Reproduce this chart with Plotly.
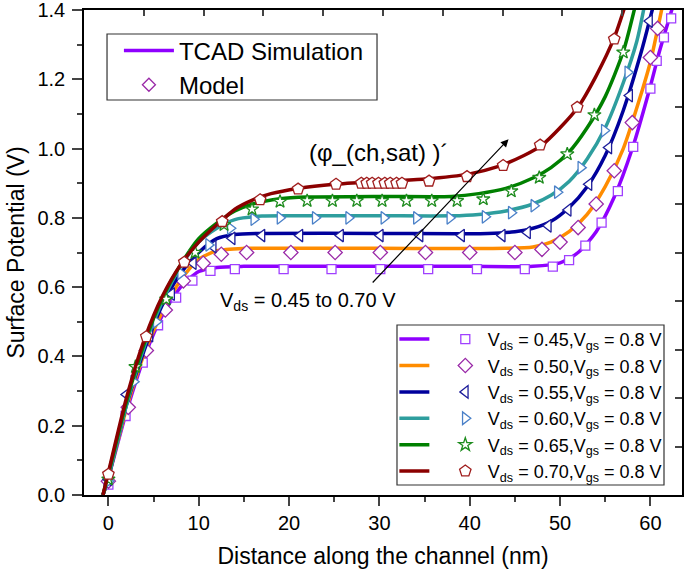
import plotly.graph_objects as go

# ---- data (x in nm, surface potential in V) ----
vds_labels = ['0.45', '0.50', '0.55', '0.60', '0.65', '0.70']

# TCAD simulation curves
tcad_x_045 = [-0.6, 0, 2, 4, 6, 8, 10, 12, 15, 20, 30, 40, 47, 50, 52, 54, 56, 58, 60, 61, 62.6]
tcad_y_045 = [0, 0.05, 0.24, 0.40, 0.52, 0.60, 0.645, 0.657, 0.66, 0.66, 0.66, 0.66, 0.66, 0.67, 0.70, 0.76, 0.86, 1.0, 1.18, 1.28, 1.42]
tcad_x_050 = [-0.6, 0, 2, 4, 6, 8, 10, 12, 15, 20, 30, 44, 47, 49, 51, 53, 55, 57, 59, 60, 61.4]
tcad_y_050 = [0, 0.05, 0.25, 0.41, 0.53, 0.62, 0.68, 0.705, 0.712, 0.712, 0.712, 0.712, 0.716, 0.73, 0.76, 0.81, 0.89, 1.0, 1.16, 1.25, 1.42]
tcad_x_055 = [-0.6, 0, 2, 4, 6, 8, 10, 12, 14, 17, 30, 42, 45, 47, 49, 51, 53, 55, 57, 59, 60.4]
tcad_y_055 = [0, 0.05, 0.26, 0.42, 0.55, 0.64, 0.70, 0.74, 0.752, 0.755, 0.755, 0.755, 0.76, 0.77, 0.79, 0.83, 0.89, 0.98, 1.11, 1.28, 1.42]
tcad_x_060 = [-0.6, 0, 2, 4, 6, 8, 10, 12, 14, 17, 20, 30, 38, 41, 44, 47, 49, 51, 53, 55, 57, 58.5, 59.4]
tcad_y_060 = [0, 0.05, 0.26, 0.43, 0.56, 0.66, 0.73, 0.77, 0.795, 0.805, 0.806, 0.806, 0.806, 0.81, 0.82, 0.84, 0.865, 0.905, 0.97, 1.06, 1.19, 1.31, 1.42]
tcad_x_065 = [-0.6, 0, 2, 4, 6, 8, 10, 12, 14, 16, 19, 22, 30, 38, 41, 44, 47, 49, 51, 53, 55, 57, 58.4]
tcad_y_065 = [0, 0.06, 0.27, 0.44, 0.57, 0.665, 0.74, 0.785, 0.82, 0.84, 0.855, 0.86, 0.862, 0.862, 0.87, 0.885, 0.915, 0.945, 0.99, 1.06, 1.15, 1.28, 1.42]
tcad_x_070 = [-0.6, 0, 2, 4, 6, 8, 10, 12, 14, 16, 18, 21, 25, 30, 35, 40, 43, 46, 48, 50, 52, 54, 56, 57.3]
tcad_y_070 = [0, 0.065, 0.28, 0.45, 0.575, 0.665, 0.73, 0.78, 0.825, 0.852, 0.87, 0.885, 0.897, 0.905, 0.912, 0.927, 0.947, 0.98, 1.01, 1.06, 1.12, 1.21, 1.32, 1.42]

# model points
model_x_045 = [0, 1.9, 3.8, 5.5, 7.5, 9.3, 11.3, 14.0, 19.4, 24.7, 30.1, 35.4, 40.8, 46.1, 49.2, 51.0, 52.8, 54.6, 56.4, 58.1, 60.0, 60.7, 61.5, 62.3]
model_y_045 = [0.03, 0.228, 0.382, 0.49, 0.57, 0.619, 0.647, 0.652, 0.652, 0.652, 0.652, 0.652, 0.652, 0.652, 0.659, 0.678, 0.72, 0.786, 0.877, 1.005, 1.173, 1.253, 1.321, 1.376]
model_x_050 = [0, 2.2, 4.2, 6.3, 8.3, 10.5, 12.5, 15.3, 20.2, 25.1, 30.1, 35.1, 40.0, 45.0, 48.0, 50.0, 52.0, 54.0, 56.0, 58.0, 60.0, 60.8]
model_y_050 = [0.04, 0.253, 0.417, 0.534, 0.618, 0.669, 0.695, 0.70, 0.70, 0.70, 0.70, 0.70, 0.70, 0.70, 0.709, 0.73, 0.772, 0.84, 0.936, 1.075, 1.263, 1.347]
model_x_055 = [0, 2.0, 4.6, 7.0, 9.4, 11.6, 13.7, 17.0, 21.2, 25.7, 30.1, 34.5, 39.1, 43.6, 46.4, 48.7, 50.9, 53.2, 55.4, 57.7, 59.9]
model_y_055 = [0.045, 0.29, 0.46, 0.58, 0.669, 0.717, 0.741, 0.749, 0.749, 0.749, 0.749, 0.749, 0.749, 0.749, 0.758, 0.777, 0.823, 0.897, 1.003, 1.153, 1.368]
model_x_060 = [0, 2.8, 5.3, 8.0, 11.1, 13.5, 16.1, 19.0, 22.9, 26.6, 30.5, 34.1, 37.8, 41.7, 44.6, 47.1, 49.7, 52.3, 54.9, 57.5]
model_y_060 = [0.04, 0.327, 0.50, 0.64, 0.722, 0.77, 0.796, 0.80, 0.80, 0.80, 0.80, 0.80, 0.80, 0.803, 0.815, 0.835, 0.874, 0.945, 1.052, 1.22]
model_x_065 = [0, 3.0, 6.4, 9.6, 12.8, 15.9, 19.0, 22.0, 24.8, 27.5, 30.3, 33.0, 35.8, 38.6, 41.5, 44.6, 47.7, 50.8, 53.8, 57.0]
model_y_065 = [0.045, 0.37, 0.565, 0.70, 0.78, 0.825, 0.847, 0.849, 0.849, 0.849, 0.849, 0.849, 0.849, 0.849, 0.854, 0.877, 0.916, 0.984, 1.097, 1.278]
model_x_070 = [0, 4.2, 8.4, 12.6, 16.8, 21.0, 25.2, 28.0, 28.6, 29.2, 29.9, 30.6, 31.2, 31.9, 32.5, 35.5, 39.7, 43.7, 47.8, 51.9, 56.0]
model_y_070 = [0.06, 0.457, 0.672, 0.789, 0.852, 0.883, 0.897, 0.90, 0.90, 0.90, 0.90, 0.90, 0.90, 0.90, 0.90, 0.906, 0.919, 0.951, 1.01, 1.119, 1.316]

# arrow for the (phi_ch,sat)' annotation
arrow_tail = [29.1, 0.609]
arrow_head = [44.3, 1.027]

line_colors = ['#8f00ff', '#ff8c00', '#00009c', '#2e9e9e', '#008000', '#8b0000']
marker_colors = ['#a040ff', '#9a2aa8', '#1c1c9a', '#4a80c8', '#1e8c1e', '#a01e1e']
marker_symbols = ['square', 'diamond', 'triangle-left', 'triangle-right', 'star', 'pentagon']
marker_sizes = [9, 11, 11, 11, 10, 12]

tcad_x = [tcad_x_045, tcad_x_050, tcad_x_055, tcad_x_060, tcad_x_065, tcad_x_070]
tcad_y = [tcad_y_045, tcad_y_050, tcad_y_055, tcad_y_060, tcad_y_065, tcad_y_070]
model_x = [model_x_045, model_x_050, model_x_055, model_x_060, model_x_065, model_x_070]
model_y = [model_y_045, model_y_050, model_y_055, model_y_060, model_y_065, model_y_070]

FONT = 'Liberation Sans, Arial, sans-serif'

fig = go.Figure()

for i, v in enumerate(vds_labels):
    name = f'V<sub>ds</sub> = {v},V<sub>gs</sub> = 0.8 V'
    # line part of the legend row (text hidden, the marker legend carries it)
    fig.add_trace(go.Scatter(
        x=tcad_x[i], y=tcad_y[i], mode='lines', name='\u00a0', legend='legend3',
        line=dict(color=line_colors[i], width=3.5, shape='spline', smoothing=0.7),
    ))
    fig.add_trace(go.Scatter(
        x=model_x[i], y=model_y[i], mode='markers', name=name, legend='legend2',
        marker=dict(symbol=marker_symbols[i], size=marker_sizes[i], color='white',
                    line=dict(color=marker_colors[i], width=1.3)),
    ))

# entries of the upper-left legend
fig.add_trace(go.Scatter(x=[None], y=[None], mode='lines', name='TCAD Simulation',
                         legend='legend', line=dict(color='#8f00ff', width=3.5)))
fig.add_trace(go.Scatter(x=[None], y=[None], mode='markers', name='Model', legend='legend',
                         marker=dict(symbol='diamond', size=10, color='white',
                                     line=dict(color='#9a2aa8', width=1.3))))

# helper trace so that the top / right tick axes are drawn
fig.add_trace(go.Scatter(x=[None], y=[None], xaxis='x2', yaxis='y2', showlegend=False,
                         hoverinfo='skip'))

axis_font = dict(family=FONT, size=20, color='black')

fig.update_layout(
    width=685, height=570,
    margin=dict(l=84, r=3, t=10, b=75),
    plot_bgcolor='white', paper_bgcolor='white',
    font=dict(family=FONT, color='black'),
    xaxis=dict(range=[-2.7, 63.5], dtick=10, tick0=0, ticks='outside', ticklen=9, tickwidth=1.5,
               showline=True, linecolor='black', linewidth=1.5, mirror=True, automargin=False,
               showgrid=False, zeroline=False, tickfont=axis_font,
               minor=dict(dtick=5, tick0=0, ticks='outside', ticklen=5, tickwidth=1.5, showgrid=False),
               title=dict(text='Distance along the channel (nm)', font=dict(family=FONT, size=23))),
    yaxis=dict(range=[0, 1.4], dtick=0.2, tick0=0, tickformat='.1f', ticks='outside', ticklen=10,
               tickwidth=1.5, showline=True, linecolor='black', linewidth=1.5, mirror=True,
               automargin=False, showgrid=False, zeroline=False, tickfont=axis_font,
               ticklabelstandoff=3, ticklabeloverflow='allow',
               minor=dict(dtick=0.1, tick0=0, ticks='outside', ticklen=5, tickwidth=1.5, showgrid=False),
               title=dict(text='Surface Potential (V)', font=dict(family=FONT, size=23), standoff=6)),
    xaxis2=dict(overlaying='x', side='top', range=[0, 10], dtick=1, ticks='inside', ticklen=6,
                tickwidth=1.5, showticklabels=False, showgrid=False, zeroline=False, showline=False,
                automargin=False),
    yaxis2=dict(overlaying='y', side='right', range=[0, 10], dtick=1, ticks='inside', ticklen=7,
                tickwidth=1.5, showticklabels=False, showgrid=False, zeroline=False, showline=False,
                automargin=False),
    legend=dict(x=0.0584, y=0.962, xanchor='left', yanchor='top', bgcolor='rgba(0,0,0,0)',
                borderwidth=0, font=dict(family=FONT, size=24), itemwidth=50),
    legend2=dict(x=0.600, y=0.359, xanchor='left', yanchor='top', bgcolor='rgba(0,0,0,0)',
                 borderwidth=0, font=dict(family=FONT, size=18), itemwidth=35),
    legend3=dict(x=0.519, y=0.359, xanchor='left', yanchor='top', bgcolor='rgba(0,0,0,0)',
                 borderwidth=0, font=dict(family=FONT, size=18, color='rgba(0,0,0,0)')),
    showlegend=True,
    shapes=[
        dict(type='rect', xref='paper', yref='paper', x0=0.0385, x1=0.4900, y0=0.9505, y1=0.8144,
             line=dict(color='#333333', width=1.2), fillcolor='white', layer='above'),
        dict(type='rect', xref='paper', yref='paper', x0=0.5234, x1=0.9699, y0=0.3505, y1=0.0206,
             line=dict(color='#333333', width=1.2), fillcolor='white', layer='above'),
    ],
    annotations=[
        dict(x=arrow_head[0], y=arrow_head[1], ax=arrow_tail[0], ay=arrow_tail[1],
             xref='x', yref='y', axref='x', ayref='y', text='', showarrow=True,
             arrowhead=2, arrowsize=1.3, arrowwidth=1.2, arrowcolor='black'),
        dict(x=30.0, y=0.99, xref='x', yref='y', text='(φ_(ch,sat) )´', showarrow=False,
             font=dict(family=FONT, size=24, color='black')),
        dict(x=22.1, y=0.56, xref='x', yref='y', text='V<sub>ds</sub> = 0.45 to 0.70 V',
             showarrow=False, font=dict(family=FONT, size=20, color='black')),
    ],
)

# the page body has a default 8 px margin; drop it so the figure fills the window
fig.write_html('out.html', config={'displayModeBar': False},
               post_script="document.body.style.margin='0';")
